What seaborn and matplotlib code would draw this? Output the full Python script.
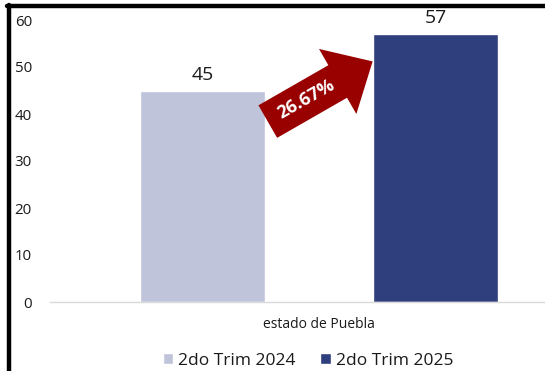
import matplotlib
matplotlib.use("Agg")
import matplotlib.pyplot as plt
from matplotlib.lines import Line2D
import pandas as pd
import seaborn as sns

# data
categories = ["estado de Puebla"]
periods = ["2do Trim 2024", "2do Trim 2025"]
values = [45, 57]
bar_colors = ["#BFC4DA", "#2F3E7D"]
y_ticks = [0, 10, 20, 30, 40, 50, 60]

df = pd.DataFrame({"region": categories * len(periods), "periodo": periods, "valor": values})

sns.set_theme(style="white")
plt.rcParams["font.family"] = ["Open Sans", "DejaVu Sans"]

fig = plt.figure(figsize=(5.45, 3.71), dpi=100)
ax = fig.add_axes([50 / 545, 1 - 302 / 371, 495 / 545, 282 / 371])

sns.barplot(data=df, x="region", y="valor", hue="periodo", palette=bar_colors,
            width=0.8, gap=0.46, saturation=1, ax=ax, legend=True)

ax.set_ylim(0, 60)
ax.set_xlim(-0.462, 0.388)
ax.set_yticks(y_ticks)
ax.tick_params(axis="y", length=0, pad=13, labelsize=10.8, labelcolor="#1a1a1a")
ax.tick_params(axis="x", length=0, pad=11, labelsize=10, labelcolor="#1a1a1a")
ax.set_xlabel("")
ax.set_ylabel("")
for s in ["top", "right", "left"]:
    ax.spines[s].set_visible(False)
ax.spines["bottom"].set_color("#D9D9D9")
ax.spines["bottom"].set_linewidth(1)

# value labels on top of the bars
for cont in ax.containers:
    ax.bar_label(cont, fmt="%d", padding=5, fontsize=14, color="#1a1a1a", clip_on=False)

# growth arrow from first bar to second bar
bars = [c.patches[0] for c in ax.containers]
x_tail = bars[0].get_x() + bars[0].get_width() + 0.004
y_tail = values[0] * 0.853
x_tip = bars[1].get_x()
y_tip = values[1] * 0.898
ax.annotate("", xy=(x_tip, y_tip), xytext=(x_tail, y_tail),
            arrowprops=dict(arrowstyle="simple,head_length=29,head_width=54,tail_width=27",
                            mutation_scale=1, color="#990000", shrinkA=0, shrinkB=0, lw=0))
growth = (values[1] - values[0]) / values[0] * 100
t = 0.37
ax.text(x_tail + t * (x_tip - x_tail), y_tail + t * (y_tip - y_tail), f"{growth:.2f}%",
        rotation=29.5, rotation_mode="anchor", ha="center", va="center",
        color="white", fontsize=13, fontweight="bold")

# legend under the chart
handles, labels = ax.get_legend_handles_labels()
ax.get_legend().remove()
fig.legend(handles, labels, loc="center", bbox_to_anchor=(308 / 545, 1 - 361 / 371),
           ncol=2, frameon=False, fontsize=12.5, handlelength=0.6, handleheight=0.6,
           handletextpad=0.3, columnspacing=1.4, labelcolor="#1a1a1a")

# border of the original screenshot box
fig.add_artist(Line2D([7 / 545, 1], [1 - 6 / 371, 1 - 6 / 371], color="black", lw=3.2))
fig.add_artist(Line2D([9 / 545, 9 / 545], [0, 1 - 5 / 371], color="black", lw=3.2))

fig.savefig("out.png", dpi=100)
